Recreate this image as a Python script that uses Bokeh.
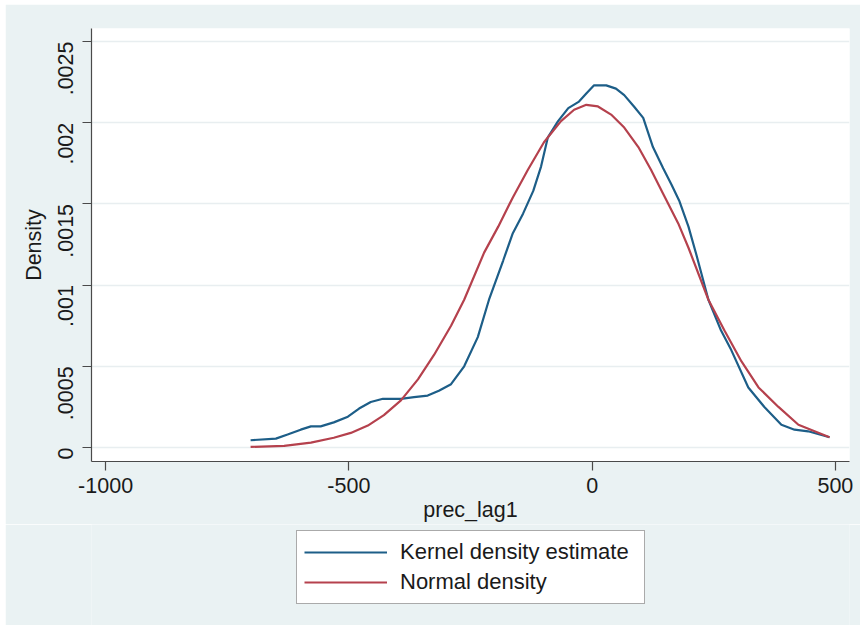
import math
from bokeh.plotting import figure
from bokeh.layouts import column
from bokeh.models import FixedTicker, Legend, LegendItem
from bokeh.embed import file_html
from bokeh.resources import INLINE

# Kernel density estimate
kde_x = [-702, -650, -626, -599, -578, -558, -531, -502, -479, -455, -430, -393,
         -366, -338, -315, -290, -263, -235, -212, -183, -163, -142, -121, -105,
         -91, -70, -49, -27, -12, 4, 29, 49, 66, 86, 105, 125, 146, 163, 179, 198,
         214, 239, 265, 286, 321, 354, 389, 416, 444, 488]
kde_y = [0.000045, 0.000055, 0.00008, 0.00011, 0.00013, 0.00013, 0.000155, 0.00019,
         0.00024, 0.00028, 0.0003, 0.0003, 0.00031, 0.00032, 0.00035, 0.00039,
         0.0005, 0.00068, 0.00091, 0.00115, 0.00132, 0.00144, 0.00158, 0.00173,
         0.00191, 0.00201, 0.00209, 0.00213, 0.00218, 0.00223, 0.00223, 0.00221,
         0.00217, 0.0021, 0.00203, 0.00185, 0.00172, 0.00162, 0.00152, 0.00136,
         0.00119, 0.00091, 0.00072, 0.0006, 0.00037, 0.00025, 0.00014, 0.00011,
         0.0001, 0.000063]

# Normal density
norm_x = [-702, -633, -578, -531, -496, -461, -428, -393, -358, -325, -290, -263,
          -222, -193, -163, -132, -99, -64, -37, -12, 12, 39, 66, 95, 121, 148,
          177, 198, 239, 272, 307, 342, 383, 424, 488]
norm_y = [0.000004, 0.00001, 0.00003, 0.00006, 0.00009, 0.000135, 0.0002, 0.00029,
          0.00042, 0.00057, 0.00075, 0.00091, 0.0012, 0.00136, 0.00154, 0.00171,
          0.00188, 0.00201, 0.00208, 0.00211, 0.0021, 0.00205, 0.00197, 0.00185,
          0.00171, 0.00155, 0.00138, 0.00123, 0.00091, 0.00072, 0.00053, 0.00037,
          0.00025, 0.00014, 0.000063]

x_ticks = [-1000, -500, 0, 500]
x_tick_labels = ["-1000", "-500", "0", "500"]
y_ticks = [0, 0.0005, 0.001, 0.0015, 0.002, 0.0025]
y_tick_labels = ["0", ".0005", ".001", ".0015", ".002", ".0025"]

series_names = ["Kernel density estimate", "Normal density"]
series_colors = ["#1D5E88", "#B5414D"]

FONT = "Liberation Sans"
BG = "#EAF2F3"

p = figure(width=855, height=520, output_backend="svg", toolbar_location=None,
           x_range=(-1029, 529), y_range=(-0.000086, 0.00258),
           min_border_left=86, min_border_top=24, min_border_right=11,
           min_border_bottom=62)
p.margin = (4, 0, 0, 5)
p.border_fill_color = BG
p.background_fill_color = "white"
p.outline_line_color = None

r1 = p.line(kde_x, kde_y, line_color=series_colors[0], line_width=2.2)
r2 = p.line(norm_x, norm_y, line_color=series_colors[1], line_width=2.2)

# axes
p.xaxis.ticker = FixedTicker(ticks=x_ticks)
p.xaxis.major_label_overrides = {t: l for t, l in zip(x_ticks, x_tick_labels)}
p.yaxis.ticker = FixedTicker(ticks=y_ticks)
p.yaxis.major_label_overrides = {t: l for t, l in zip(y_ticks, y_tick_labels)}
p.yaxis.major_label_orientation = math.pi / 2
p.xaxis.axis_label = "prec_lag1"
p.yaxis.axis_label = "Density"
for ax in (p.xaxis[0], p.yaxis[0]):
    ax.axis_line_color = "#4a4a4a"
    ax.axis_line_width = 1.2
    ax.major_tick_line_color = "#4a4a4a"
    ax.major_tick_line_width = 1.2
    ax.major_tick_in = 0
    ax.major_tick_out = 9
    ax.minor_tick_line_color = None
    ax.major_label_text_font = FONT
    ax.major_label_text_font_size = "21.5px"
    ax.major_label_text_color = "#1a1a1a"
    ax.axis_label_text_font = FONT
    ax.axis_label_text_font_size = "21.5px"
    ax.axis_label_text_font_style = "normal"
    ax.axis_label_text_color = "#1a1a1a"
p.xaxis.major_label_standoff = 7
p.xaxis.axis_label_standoff = 2
p.yaxis.major_label_standoff = 17
p.yaxis.axis_label_standoff = 2

p.xgrid.grid_line_color = None
p.ygrid.ticker = FixedTicker(ticks=y_ticks)
p.ygrid.grid_line_color = "#E8EEF0"
p.ygrid.grid_line_width = 1.5

# legend strip below the chart
p2 = figure(width=855, height=101, output_backend="svg", toolbar_location=None,
            x_axis_type=None, y_axis_type=None, x_range=(0, 1), y_range=(0, 1),
            min_border_left=86, min_border_right=11, min_border_top=0,
            min_border_bottom=0)
p2.margin = (0, 0, 0, 5)
p2.border_fill_color = BG
p2.background_fill_color = BG
p2.outline_line_color = None
p2.xgrid.grid_line_color = None
p2.ygrid.grid_line_color = None
# legend keys (drawn outside the visible range)
k1 = p2.line([0, 1], [-5, -5], line_color=series_colors[0], line_width=2.2)
k2 = p2.line([0, 1], [-5, -5], line_color=series_colors[1], line_width=2.2)

legend = Legend(items=[LegendItem(label=series_names[0], renderers=[k1]),
                       LegendItem(label=series_names[1], renderers=[k2])],
                location=(205, 21), orientation="vertical",
                label_text_font=FONT, label_text_font_size="22px",
                label_text_color="#1a1a1a",
                glyph_width=83, glyph_height=28, label_height=28,
                label_width=237, label_standoff=13, spacing=2, padding=7,
                margin=0,
                border_line_color="#555555", border_line_width=1.2,
                background_fill_color="white", background_fill_alpha=1.0)
p2.add_layout(legend, "center")

layout = column(p, p2, spacing=0)
open("out.html", "w").write(file_html(layout, INLINE))
